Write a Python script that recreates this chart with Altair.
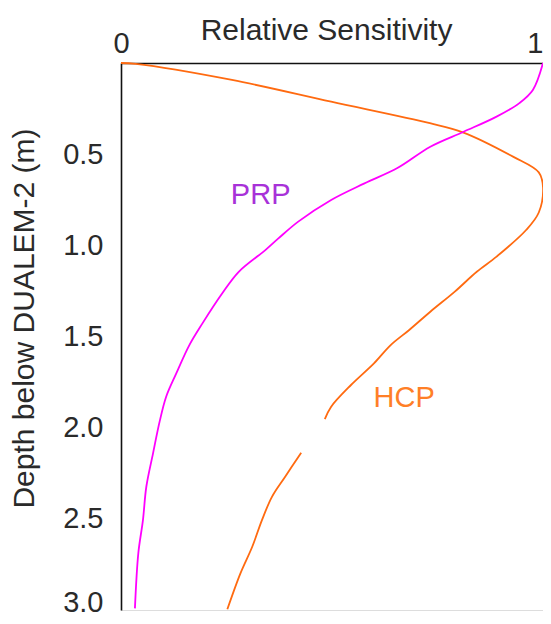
import altair as alt
import pandas as pd

# HCP curve (two segments, gap near 2 m)
hcp_depth_a = [0.0, 0.005, 0.093, 0.212, 0.33, 0.38, 0.515, 0.60, 0.68, 0.82, 0.916,
               1.062, 1.145, 1.254, 1.364, 1.464, 1.547, 1.646, 1.766, 1.885, 1.953]
hcp_sens_a = [0.0, 0.035, 0.263, 0.498, 0.732, 0.81, 0.93, 0.99, 1.0, 0.99, 0.960,
              0.89, 0.843, 0.791, 0.733, 0.683, 0.639, 0.60, 0.545, 0.498, 0.483]
hcp_depth_b = [2.137, 2.269, 2.378, 2.507, 2.653, 2.799, 2.996]
hcp_sens_b = [0.427, 0.389, 0.358, 0.334, 0.311, 0.283, 0.252]

# PRP curve
prp_depth = [0.0, 0.148, 0.22, 0.294, 0.377, 0.459, 0.576, 0.66, 0.751, 0.87, 0.962,
             1.026, 1.145, 1.263, 1.428, 1.547, 1.702, 1.83, 1.967, 2.141, 2.324,
             2.507, 2.689, 2.991]
prp_sens = [1.0, 0.976, 0.944, 0.89, 0.812, 0.733, 0.655, 0.577, 0.498, 0.42, 0.373,
            0.342, 0.279, 0.24, 0.193, 0.162, 0.131, 0.107, 0.0915, 0.0759, 0.06,
            0.052, 0.041, 0.033]

label_text = ["PRP", "HCP"]
label_sens = [0.331, 0.671]
label_depth = [0.724, 1.837]
label_color = ["#A832D8", "#FF7F27"]

x_ticks = [0, 1]
y_ticks = [0.5, 1.0, 1.5, 2.0, 2.5, 3.0]

rows = []
for d, s in zip(hcp_depth_a, hcp_sens_a):
    rows.append({"depth": d, "sens": s, "series": "HCP", "seg": "HCP-a"})
for d, s in zip(hcp_depth_b, hcp_sens_b):
    rows.append({"depth": d, "sens": s, "series": "HCP", "seg": "HCP-b"})
for d, s in zip(prp_depth, prp_sens):
    rows.append({"depth": d, "sens": s, "series": "PRP", "seg": "PRP"})
df = pd.DataFrame(rows)

labels = pd.DataFrame({"text": label_text, "sens": label_sens,
                       "depth": label_depth, "color": label_color})

FONT = "Liberation Sans"
TXT = "#2a2a2a"

x_scale = alt.Scale(domain=[0, 1], nice=False, zero=False)
y_scale = alt.Scale(domain=[0, 3], nice=False, reverse=True)

lines = alt.Chart(df).mark_line(strokeWidth=1.8, interpolate="catmull-rom").encode(
    x=alt.X("sens:Q", scale=x_scale,
            axis=alt.Axis(orient="top", values=x_ticks, format="d",
                          title="Relative Sensitivity", ticks=False, grid=False,
                          domainColor="#111", domainWidth=1.6,
                          labelFontSize=29, labelFont=FONT, labelColor=TXT,
                          labelPadding=5, labelFlush=False, labelOverlap=False,
                          labelAlign={"expr": "datum.value == 1 ? 'right' : 'center'"},
                          titleFontSize=30, titleFont=FONT, titleFontWeight="normal",
                          titleColor=TXT, titleX=205, titleY=-24,
                          titleBaseline="alphabetic", titleAlign="center")),
    y=alt.Y("depth:Q", scale=y_scale,
            axis=alt.Axis(values=y_ticks, format=".1f", ticks=False, grid=False,
                          domainColor="#111", domainWidth=1.6,
                          labelFontSize=29, labelFont=FONT, labelColor=TXT,
                          labelPadding=18, labelFlush=False, labelOverlap=False,
                          labelOffset={"expr": "datum.value == 3 ? -8 : 0"},
                          title="Depth below DUALEM-2 (m)",
                          titleFontSize=30, titleFont=FONT, titleFontWeight="normal",
                          titleColor=TXT, titleX=-88, titleY=255, titleAngle=270,
                          titleBaseline="alphabetic", titleAlign="center")),
    color=alt.Color("series:N",
                    scale=alt.Scale(domain=["HCP", "PRP"], range=["#FF6A10", "#FF00FF"]),
                    legend=None),
    detail="seg:N",
    order="depth:Q",
)

text = alt.Chart(labels).mark_text(fontSize=29, font=FONT, align="center",
                                   baseline="middle").encode(
    x=alt.X("sens:Q", scale=x_scale),
    y=alt.Y("depth:Q", scale=y_scale),
    text="text:N",
    color=alt.Color("color:N", scale=None),
)

chart = alt.layer(lines, text).properties(
    width=422, height=547,
    autosize=alt.AutoSizeParams(type="none"),
    padding={"left": 113, "top": 55, "right": 0, "bottom": 6},
).configure_view(stroke=None).configure(background="white")

chart.save("out.html", embed_options={"renderer": "svg", "actions": False})
